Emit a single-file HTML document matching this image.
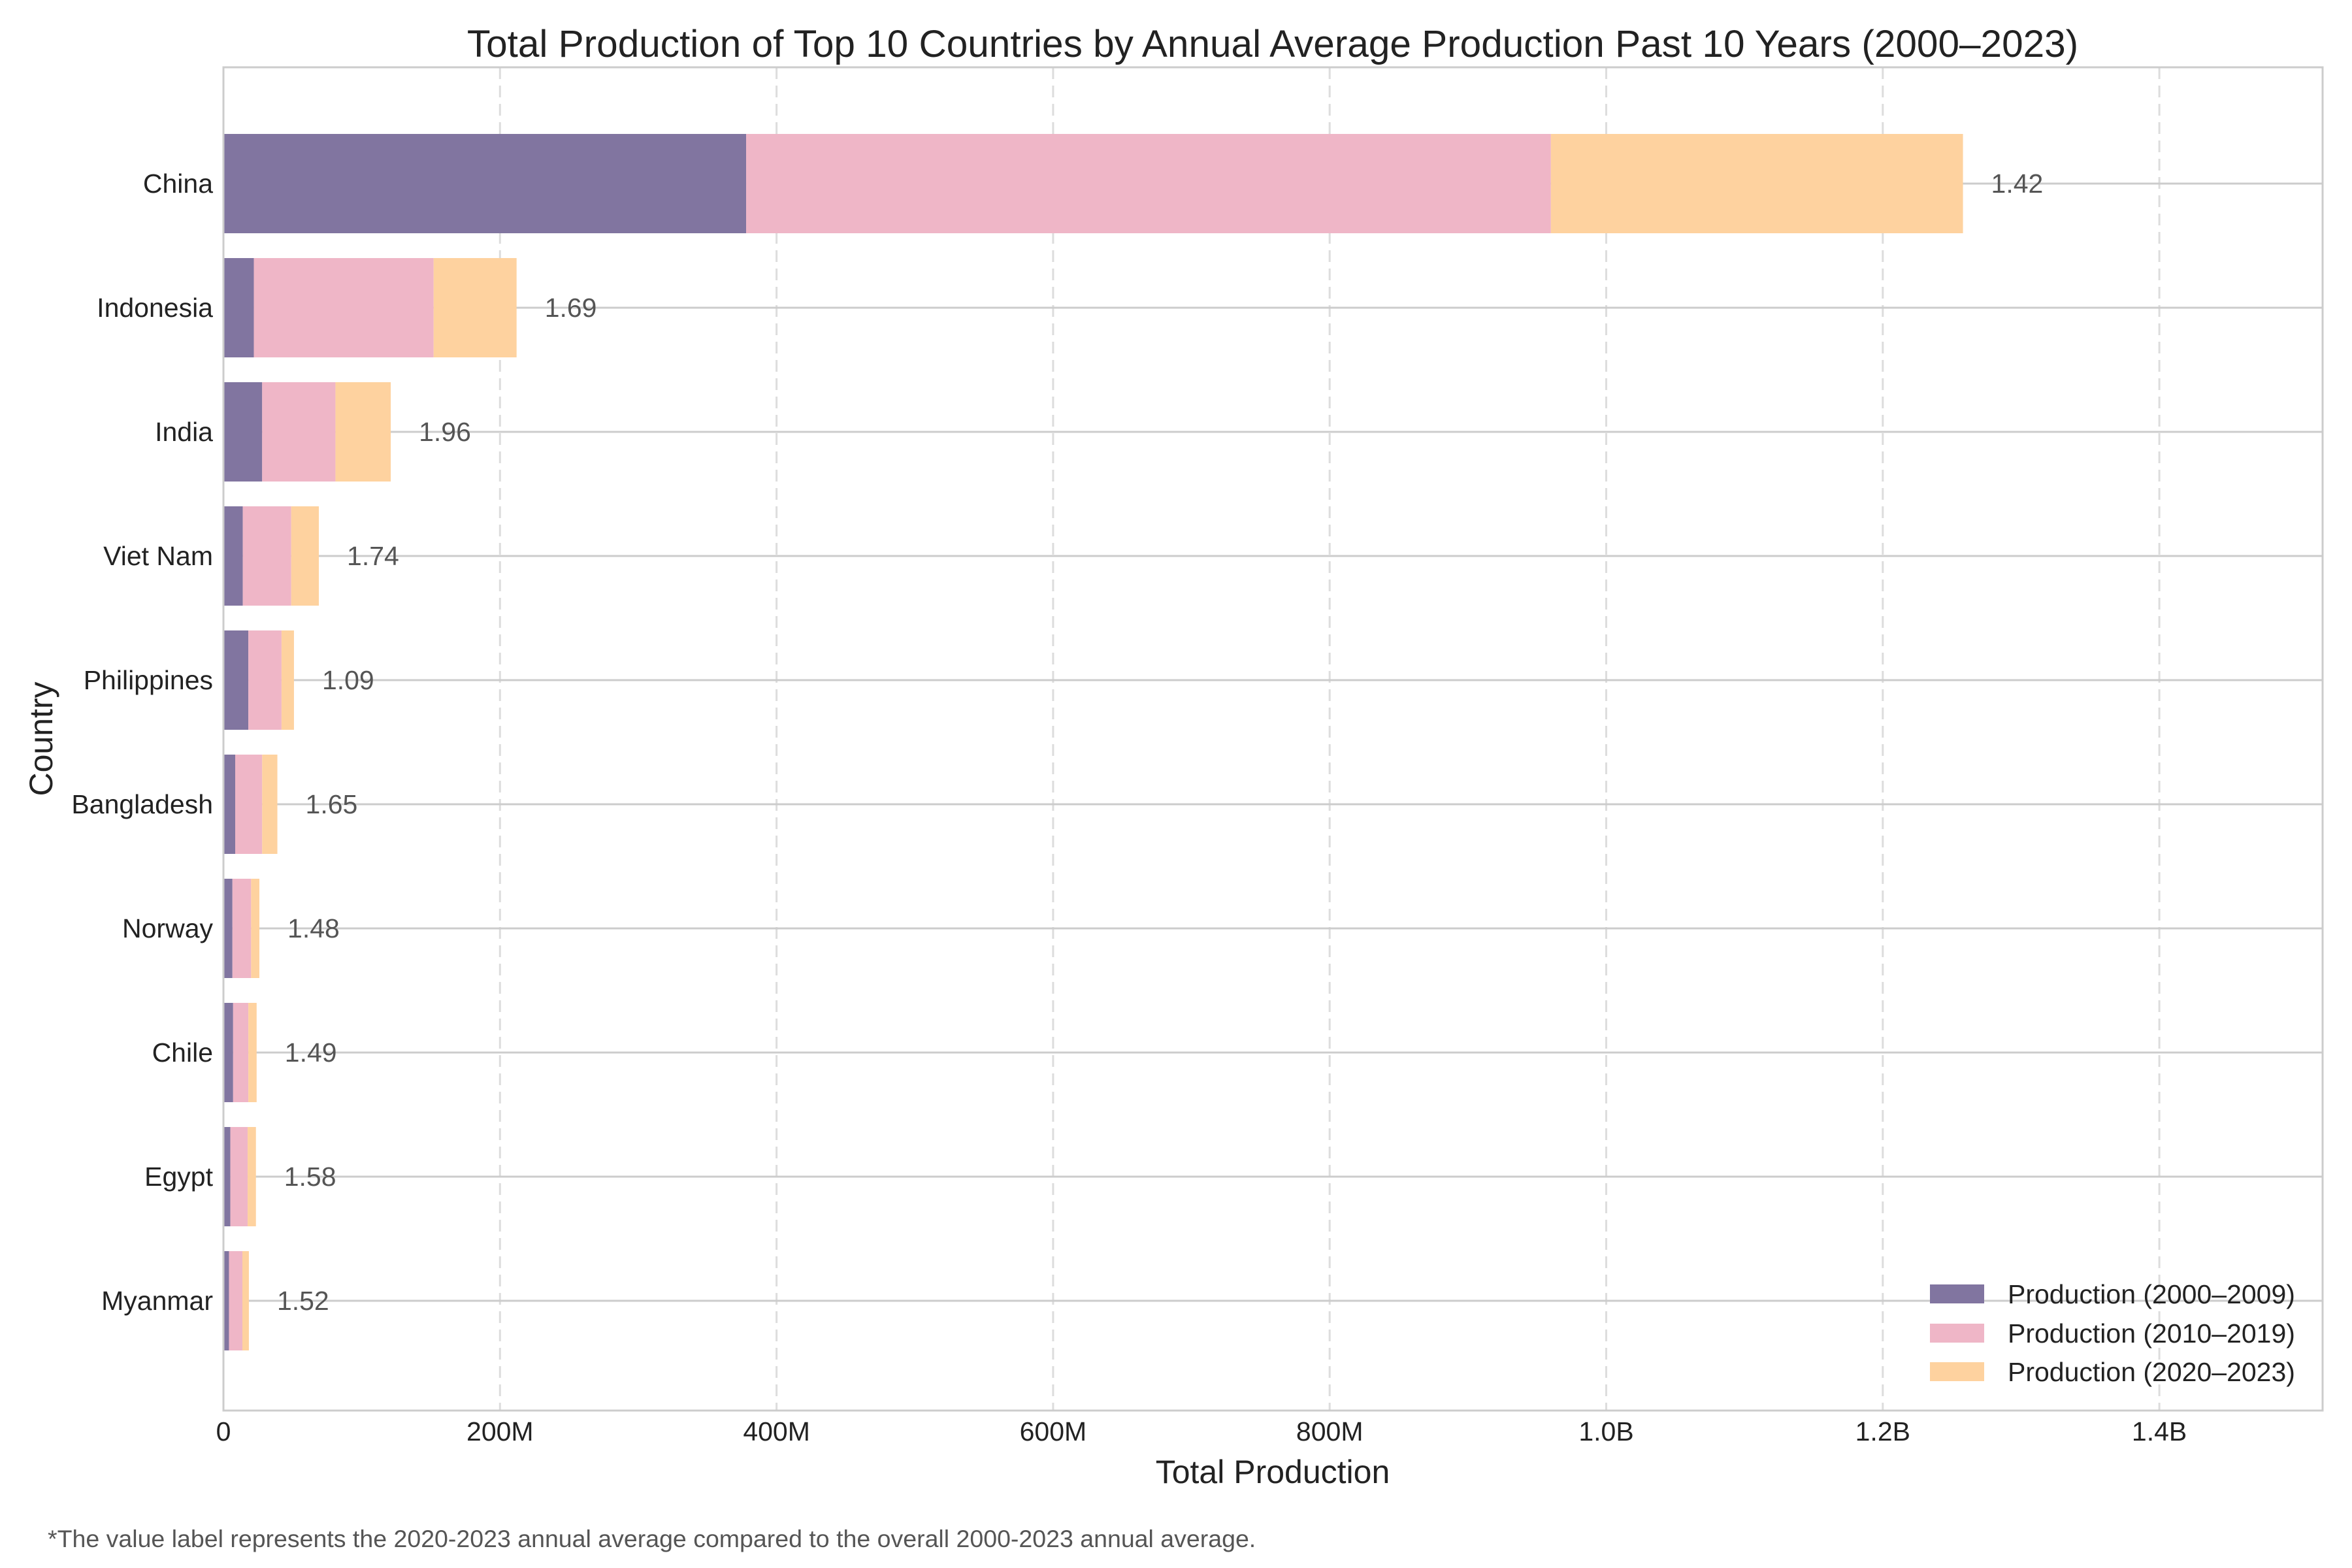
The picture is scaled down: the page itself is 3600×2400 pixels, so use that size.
<!DOCTYPE html>
<html><head><meta charset="utf-8"><style>
body{margin:0;background:#fff}
svg{display:block;font-family:"Liberation Sans",sans-serif}
</style></head><body>
<svg id="chart" width="3600" height="2400" viewBox="0 0 3600 2400">
<text x="1948" y="87" font-size="58.5" text-anchor="middle" fill="#222">Total Production of Top 10 Countries by Annual Average Production Past 10 Years (2000–2023)</text>
<g id="grid"></g>
<g id="bars"></g>
<g id="labels"></g>
<rect x="342" y="103" width="3213" height="2056" fill="none" stroke="#cccccc" stroke-width="3"/>
<text x="1948" y="2270" font-size="50" text-anchor="middle" fill="#222">Total Production</text>
<text transform="translate(80,1131) rotate(-90)" font-size="50" text-anchor="middle" fill="#222">Country</text>
<text x="73" y="2368" font-size="37.5" fill="#555">*The value label represents the 2020-2023 annual average compared to the overall 2000-2023 annual average.</text>
<g>
<rect x="2954" y="1966" width="83" height="29" fill="#8175a0"/>
<text x="3073" y="1995" font-size="41" fill="#222">Production (2000–2009)</text>
<rect x="2954" y="2026" width="83" height="29" fill="#efb6c7"/>
<text x="3073" y="2055" font-size="41" fill="#222">Production (2010–2019)</text>
<rect x="2954" y="2085" width="83" height="29" fill="#fed29f"/>
<text x="3073" y="2114" font-size="41" fill="#222">Production (2020–2023)</text>
</g>
</svg>
<script>
const countries = ["China","Indonesia","India","Viet Nam","Philippines","Bangladesh","Norway","Chile","Egypt","Myanmar"];
const prod2000s = [378,22,28,14,18,8.5,6.5,7,5,4];
const prod2010s = [582,130,53,35,24,19.5,13.5,11,12.5,9.7];
const prod2020s = [298,60,40,20,9,11,6,6,6,4.7];
const ratios = ["1.42","1.69","1.96","1.74","1.09","1.65","1.48","1.49","1.58","1.52"];
const xTicks = [0,200,400,600,800,1000,1200,1400];
const xTickLabels = ["0","200M","400M","600M","800M","1.0B","1.2B","1.4B"];
const colors = ["#8175a0","#efb6c7","#fed29f"];
const NS="http://www.w3.org/2000/svg";
const X0=342, PX=423.3/200, L=342, R=3555, T=103, B=2159;
function xs(v){return X0+v*PX;}
function ys(i){return 281+i*190;}
const BH=152;
function mk(tag,attrs,parent){const e=document.createElementNS(NS,tag);for(const k in attrs)e.setAttribute(k,attrs[k]);parent.appendChild(e);return e;}
const grid=document.getElementById('grid'),bars=document.getElementById('bars'),labels=document.getElementById('labels');
xTicks.forEach((t,i)=>{
  const x=xs(t);
  if(i>0){const g=mk('line',{x1:x,x2:x,y1:T,y2:B,stroke:'#dddddd','stroke-width':3,'stroke-dasharray':'18,10'},grid);
  
  }
  const tx=mk('text',{x:x,y:2205,'font-size':41,'text-anchor':'middle',fill:'#222'},labels);
  tx.textContent=xTickLabels[i];
  
  
});
countries.forEach((c,i)=>{
  const y=ys(i);
  const gl=mk('line',{x1:L,x2:R,y1:y,y2:y,stroke:'#cccccc','stroke-width':3},grid);
  
  
  const segs=[prod2000s[i],prod2010s[i],prod2020s[i]];
  let acc=0;
  segs.forEach((v,k)=>{
    const r=mk('rect',{x:xs(acc),y:y-BH/2,width:xs(acc+v)-xs(acc),height:BH,fill:colors[k]},bars);
    
    
    acc+=v;
  });
  const vl=mk('text',{x:xs(acc)+43,y:y+14,'font-size':41,fill:'#555'},labels);
  vl.textContent=ratios[i];
  
  
  const cl=mk('text',{x:326,y:y+14,'font-size':41,'text-anchor':'end',fill:'#222'},labels);
  cl.textContent=c;
  
  
});
</script>
</body></html>
